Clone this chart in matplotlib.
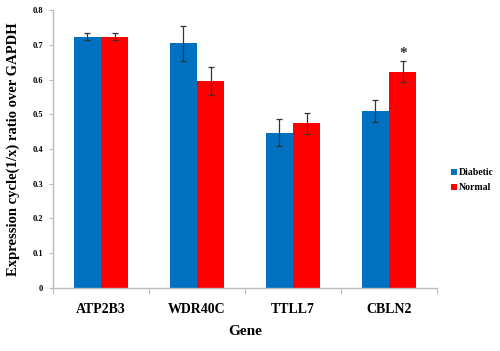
import matplotlib
matplotlib.use("Agg")
import matplotlib.pyplot as plt
import numpy as np

genes = ["ATP2B3", "WDR40C", "TTLL7", "CBLN2"]
diabetic = [0.723, 0.704, 0.447, 0.510]
diabetic_err = [0.010, 0.050, 0.039, 0.031]
normal = [0.723, 0.596, 0.474, 0.622]
normal_err = [0.010, 0.040, 0.031, 0.030]
series_names = ["Diabetic", "Normal"]
yticks = [0, 0.1, 0.2, 0.3, 0.4, 0.5, 0.6, 0.7, 0.8]
ytick_labels = ["0", "0.1", "0.2", "0.3", "0.4", "0.5", "0.6", "0.7", "0.8"]

plt.rcParams['font.family'] = ['Liberation Serif', 'DejaVu Serif']

fig = plt.figure(figsize=(5.0, 3.51), dpi=100)
ax = fig.add_axes([0.106, 0.1795, 0.768, 0.792])

x = np.arange(len(genes))
w = 0.285
ekw = dict(ecolor='#333333', elinewidth=0.9, capsize=2.2, capthick=0.9)
b1 = ax.bar(x - w/2, diabetic, w, yerr=diabetic_err, color='#0070C0', label=series_names[0], error_kw=ekw)
b2 = ax.bar(x + w/2, normal, w, yerr=normal_err, color='#FF0000', label=series_names[1], error_kw=ekw)

ax.text(x[3] + w/2, normal[3] + normal_err[3] + 0.004, "*", ha='center', va='bottom',
        fontsize=11, fontweight='bold', color='#333333')

ax.set_xlim(-0.5, len(genes) - 0.5)
ax.set_ylim(0, 0.8)
ax.set_yticks(yticks)
ax.set_yticklabels(ytick_labels, fontsize=6, fontweight='bold')
ax.set_xticks(np.arange(len(genes) + 1) - 0.5)
ax.set_xticklabels([])
ax.set_xticks(x, minor=True)
ax.set_xticklabels(genes, minor=True, fontsize=10, fontweight='bold')
ax.tick_params(axis='x', which='minor', length=0, pad=11)
ax.tick_params(axis='x', which='major', length=4, color='#BBBBBB', direction='out')
ax.tick_params(axis='y', length=3, color='#BBBBBB', direction='out', pad=4)

for s in ['top', 'right']:
    ax.spines[s].set_visible(False)
for s in ['left', 'bottom']:
    ax.spines[s].set_color('#BBBBBB')
    ax.spines[s].set_linewidth(1.0)

ax.set_xlabel("Gene", fontsize=11, fontweight='bold', labelpad=6)
ax.set_ylabel("Expression cycle(1/x) ratio over GAPDH", fontsize=10.5, fontweight='bold', labelpad=9)

leg = fig.legend(handles=[b1, b2], labels=series_names, loc='upper left',
                 bbox_to_anchor=(0.885, 0.545), frameon=False,
                 handlelength=0.6, handleheight=0.6, handletextpad=0.2, labelspacing=0.6,
                 prop={'weight': 'bold', 'size': 7})

fig.savefig("out.png", dpi=100)
